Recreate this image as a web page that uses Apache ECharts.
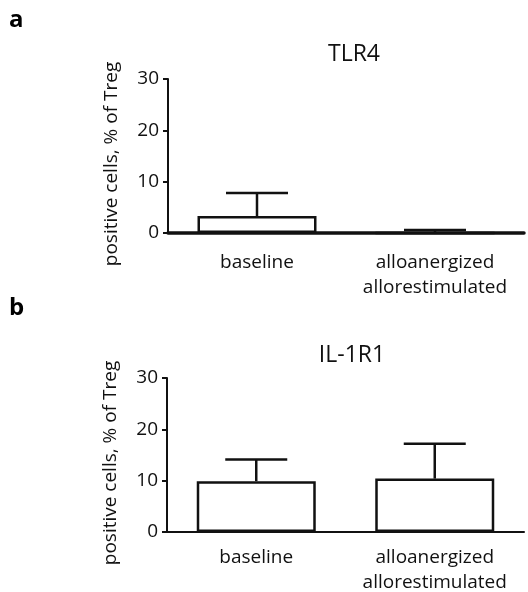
<!DOCTYPE html>
<html>
<head>
<meta charset="utf-8">
<script src="https://cdn.jsdelivr.net/npm/echarts@6/dist/echarts.min.js"></script>
<style>
  html, body { margin: 0; padding: 0; background: #fff; }
  #chart { width: 528px; height: 592px; }
</style>
</head>
<body>
<div id="chart"></div>
<script>
// data
const categories = ['baseline', 'alloanergized\nallorestimulated']
const yTicks = [0, 10, 20, 30]

const tlr4Mean = [3.3, 0]
const tlr4Upper = [7.8, 0.6]

const il1r1Mean = [9.9, 10.4]
const il1r1Upper = [14.1, 17.2]

const ink = '#111'
const font = '"Open Sans", "Noto Sans", sans-serif'

const chart = echarts.init(document.getElementById('chart'), null, { renderer: 'canvas' })

// error bar: stem from bar top up to mean + sd, with a cap
const errorBar = (params, api) => {
  const base = api.coord([api.value(0), api.value(1)])
  const top = api.coord([api.value(0), api.value(2)])
  const half = 31
  const style = { stroke: ink, lineWidth: 2.5 }
  return {
    type: 'group',
    children: [
      { type: 'line', shape: { x1: base[0], y1: base[1], x2: top[0], y2: top[1] }, style },
      { type: 'line', shape: { x1: top[0] - half, y1: top[1], x2: top[0] + half, y2: top[1] }, style }
    ]
  }
}

const xAxisFor = (gridIndex, axisWidth, labelMargin) => ({
  type: 'category',
  gridIndex,
  data: categories,
  axisLine: { lineStyle: { color: ink, width: axisWidth } },
  axisTick: { show: false },
  axisLabel: {
    interval: 0, hideOverlap: false,
    color: '#111', fontSize: 19, fontFamily: font, margin: labelMargin, lineHeight: 25
  }
})

const yAxisFor = (gridIndex) => ({
  type: 'value',
  gridIndex,
  min: yTicks[0],
  max: yTicks[yTicks.length - 1],
  interval: 10,
  name: 'positive cells, % of Treg',
  nameLocation: 'middle',
  nameGap: 47,
  nameTextStyle: { color: '#111', fontSize: 19, fontFamily: font, padding: [0, 16, 0, 0] },
  splitLine: { show: false },
  axisLine: { show: true, lineStyle: { color: ink, width: 2 } },
  axisTick: { show: true, length: 5, lineStyle: { color: ink, width: 2 } },
  axisLabel: { color: '#111', fontSize: 19, fontFamily: font, margin: 9 }
})

const barSeries = (idx, values) => ({
  type: 'bar',
  xAxisIndex: idx,
  yAxisIndex: idx,
  data: values,
  barWidth: 119,
  itemStyle: { color: '#fff', borderColor: ink, borderWidth: 2.5 },
  z: 3
})

const errSeries = (idx, mean, upper) => ({
  type: 'custom',
  xAxisIndex: idx,
  yAxisIndex: idx,
  renderItem: errorBar,
  data: mean.map((m, i) => [i, m, upper[i]]),
  encode: { x: 0, y: [1, 2] },
  z: 4
})

const option = {
  animation: false,
  backgroundColor: '#fff',
  title: [
    { text: 'TLR4', left: 349, top: 38, textAlign: 'center',
      textStyle: { color: '#111', fontSize: 23, fontWeight: 'normal', fontFamily: font } },
    { text: 'IL-1R1', left: 347, top: 339, textAlign: 'center',
      textStyle: { color: '#111', fontSize: 23, fontWeight: 'normal', fontFamily: font } }
  ],
  graphic: [
    { type: 'text', left: 9, top: 8, style: { text: 'a', fontSize: 24, fontWeight: 'bold', fontFamily: font, fill: '#000' } },
    { type: 'text', left: 9, top: 296, style: { text: 'b', fontSize: 24, fontWeight: 'bold', fontFamily: font, fill: '#000' } }
  ],
  grid: [
    { left: 168, right: 4, top: 79, height: 154, outerBoundsMode: 'none' },
    { left: 167, right: 4, top: 378, height: 154, outerBoundsMode: 'none' }
  ],
  xAxis: [xAxisFor(0, 3.5, 17), xAxisFor(1, 2, 13)],
  yAxis: [yAxisFor(0), yAxisFor(1)],
  series: [
    barSeries(0, tlr4Mean),
    errSeries(0, tlr4Mean, tlr4Upper),
    barSeries(1, il1r1Mean),
    errSeries(1, il1r1Mean, il1r1Upper)
  ]
}

chart.setOption(option)
</script>
</body>
</html>
